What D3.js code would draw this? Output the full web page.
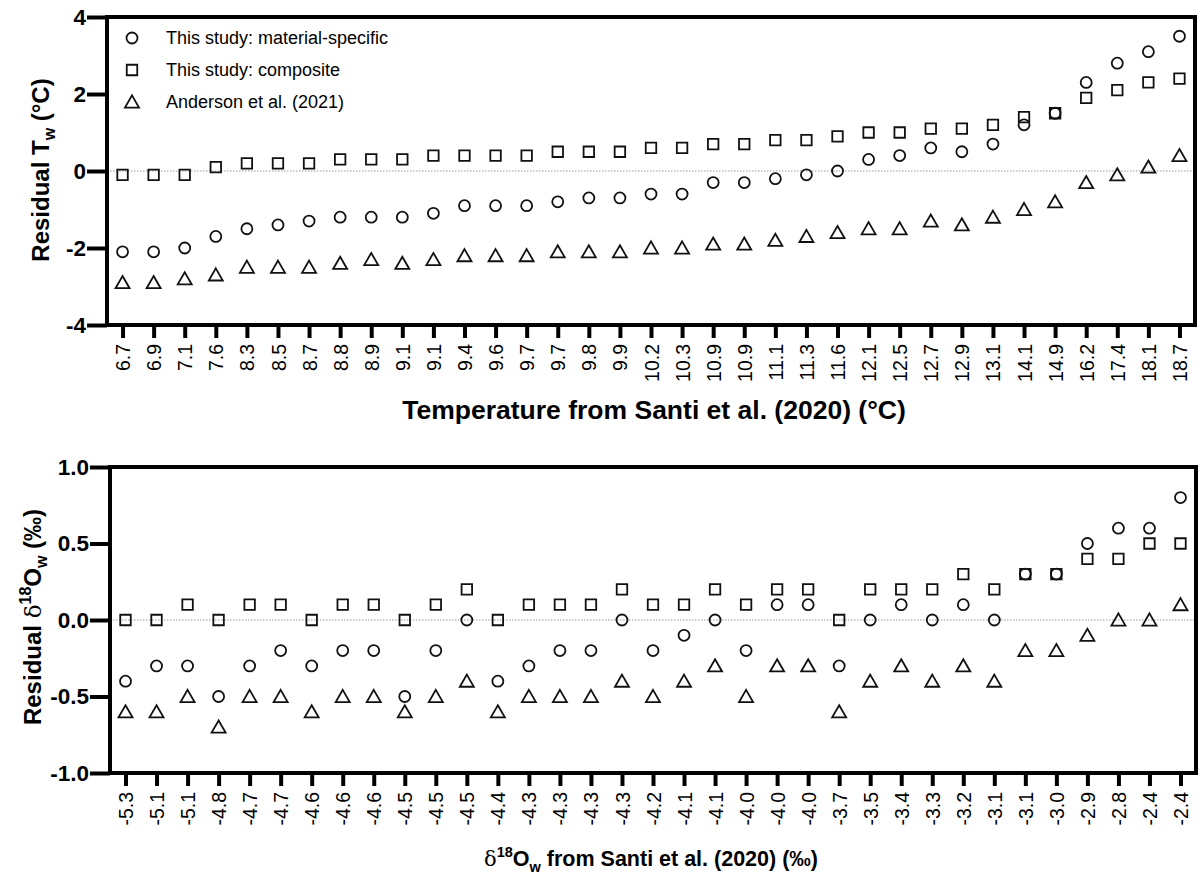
<!DOCTYPE html>
<html><head><meta charset="utf-8">
<script src="https://cdn.jsdelivr.net/npm/d3@7"></script>
<style>body{margin:0;background:#fff}svg{display:block}text{font-family:"Liberation Sans",Arial,sans-serif}</style>
</head><body>
<svg id="c" width="1199" height="882"></svg>
<script>
const tempLabels = ["6.7","6.9","7.1","7.6","8.3","8.5","8.7","8.8","8.9","9.1","9.1","9.4","9.6","9.7","9.7","9.8","9.9","10.2","10.3","10.9","10.9","11.1","11.3","11.6","12.1","12.5","12.7","12.9","13.1","14.1","14.9","16.2","17.4","18.1","18.7"];
const tempMaterial = [-2.1,-2.1,-2.0,-1.7,-1.5,-1.4,-1.3,-1.2,-1.2,-1.2,-1.1,-0.9,-0.9,-0.9,-0.8,-0.7,-0.7,-0.6,-0.6,-0.3,-0.3,-0.2,-0.1,0.0,0.3,0.4,0.6,0.5,0.7,1.2,1.5,2.3,2.8,3.1,3.5];
const tempComposite = [-0.1,-0.1,-0.1,0.1,0.2,0.2,0.2,0.3,0.3,0.3,0.4,0.4,0.4,0.4,0.5,0.5,0.5,0.6,0.6,0.7,0.7,0.8,0.8,0.9,1.0,1.0,1.1,1.1,1.2,1.4,1.5,1.9,2.1,2.3,2.4];
const tempAnderson = [-2.9,-2.9,-2.8,-2.7,-2.5,-2.5,-2.5,-2.4,-2.3,-2.4,-2.3,-2.2,-2.2,-2.2,-2.1,-2.1,-2.1,-2.0,-2.0,-1.9,-1.9,-1.8,-1.7,-1.6,-1.5,-1.5,-1.3,-1.4,-1.2,-1.0,-0.8,-0.3,-0.1,0.1,0.4];
const tempYTicks = [-4,-2,0,2,4];

const d18Labels = ["-5.3","-5.1","-5.1","-4.8","-4.7","-4.7","-4.6","-4.6","-4.6","-4.5","-4.5","-4.5","-4.4","-4.3","-4.3","-4.3","-4.3","-4.2","-4.1","-4.1","-4.0","-4.0","-4.0","-3.7","-3.5","-3.4","-3.3","-3.2","-3.1","-3.1","-3.0","-2.9","-2.8","-2.4","-2.4"];
const d18Material = [-0.4,-0.3,-0.3,-0.5,-0.3,-0.2,-0.3,-0.2,-0.2,-0.5,-0.2,0.0,-0.4,-0.3,-0.2,-0.2,0.0,-0.2,-0.1,0.0,-0.2,0.1,0.1,-0.3,0.0,0.1,0.0,0.1,0.0,0.3,0.3,0.5,0.6,0.6,0.8];
const d18Composite = [0,0,0.1,0,0.1,0.1,0,0.1,0.1,0,0.1,0.2,0,0.1,0.1,0.1,0.2,0.1,0.1,0.2,0.1,0.2,0.2,0,0.2,0.2,0.2,0.3,0.2,0.3,0.3,0.4,0.4,0.5,0.5];
const d18Anderson = [-0.6,-0.6,-0.5,-0.7,-0.5,-0.5,-0.6,-0.5,-0.5,-0.6,-0.5,-0.4,-0.6,-0.5,-0.5,-0.5,-0.4,-0.5,-0.4,-0.3,-0.5,-0.3,-0.3,-0.6,-0.4,-0.3,-0.4,-0.3,-0.4,-0.2,-0.2,-0.1,0.0,0.0,0.1];
const d18YTicks = [-1.0,-0.5,0.0,0.5,1.0];

const seriesNames = ["This study: material-specific","This study: composite","Anderson et al. (2021)"];
const seriesShapes = ["circle","square","triangle"];

const svg = d3.select("#c");

function shapePath(shape){
  if(shape==="circle") return d3.symbol(d3.symbolCircle, 95)();
  if(shape==="square") return d3.symbol(d3.symbolSquare, 110)();
  return d3.symbol(d3.symbolTriangle, 85)();
}
const hy = f => v => f(v).replace("\u2212","-");

function panel(cfg){
  const g = svg.append("g");
  const idx = d3.range(cfg.labels.length);
  const x = d3.scalePoint().domain(idx).range([cfg.left, cfg.right]).padding(0.5);
  const y = d3.scaleLinear().domain(cfg.ydom).range([cfg.bottom, cfg.top]);

  g.append("line").attr("x1",cfg.left).attr("x2",cfg.right).attr("y1",y(0)).attr("y2",y(0))
    .attr("stroke","#999").attr("stroke-width",1.2).attr("stroke-dasharray","1.5,1.5");

  g.append("rect").attr("x",cfg.left).attr("y",cfg.top).attr("width",cfg.right-cfg.left).attr("height",cfg.bottom-cfg.top)
    .attr("fill","none").attr("stroke","#000").attr("stroke-width",4);

  const ya = g.append("g").attr("transform",`translate(${cfg.left},0)`)
    .call(d3.axisLeft(y).tickValues(cfg.yticks).tickSize(20).tickPadding(1).tickFormat(hy(cfg.yfmt)));
  ya.select(".domain").remove();
  ya.selectAll("line").attr("stroke-width",4);
  ya.selectAll("text").attr("font-size",22.5).attr("font-weight","bold").attr("fill","#000");

  const xa = g.append("g").attr("transform",`translate(0,${cfg.bottom})`)
    .call(d3.axisBottom(x).tickSize(13).tickFormat(i=>cfg.labels[i]));
  xa.select(".domain").remove();
  xa.selectAll("line").attr("stroke-width",4);
  xa.selectAll("text").attr("font-size",19.5).attr("fill","#000")
    .attr("text-anchor","end").attr("transform","rotate(-90)")
    .attr("x",-19).attr("y",0).attr("dy","0.36em");

  const sets = [cfg.material, cfg.composite, cfg.anderson];
  sets.forEach((vals,si)=>{
    g.append("g").selectAll("path").data(vals).join("path")
      .attr("d",shapePath(seriesShapes[si]))
      .attr("transform",(v,i)=>`translate(${x(i)},${y(v) + (si===2?1.5:0)})`)
      .attr("fill","none").attr("stroke","#111").attr("stroke-width",1.8);
  });
  return {g,x,y};
}

panel({labels:tempLabels, material:tempMaterial, composite:tempComposite, anderson:tempAnderson,
  left:107, right:1195, top:17, bottom:325, ydom:[-4,4], yticks:tempYTicks, yfmt:d3.format("d")});
panel({labels:d18Labels, material:d18Material, composite:d18Composite, anderson:d18Anderson,
  left:110, right:1196, top:467, bottom:773, ydom:[-1,1], yticks:d18YTicks, yfmt:d3.format(".1f")});

const lg = svg.append("g");
seriesNames.forEach((name,i)=>{
  const yy = 38 + i*32;
  lg.append("path").attr("d",shapePath(seriesShapes[i])).attr("transform",`translate(132,${yy + (i===2?1.5:0)})`)
    .attr("fill","none").attr("stroke","#111").attr("stroke-width",1.8);
  lg.append("text").attr("x",166).attr("y",yy).attr("dy","0.35em").attr("font-size",18).attr("fill","#000").text(name);
});

svg.append("text").attr("x",654).attr("y",419).attr("text-anchor","middle")
  .attr("font-size",26.5).attr("font-weight","bold").text("Temperature from Santi et al. (2020) (°C)");

const t2 = svg.append("text").attr("x",651).attr("y",866).attr("text-anchor","middle")
  .attr("font-size",21.5).attr("font-weight","bold");
t2.append("tspan").attr("font-weight","normal").attr("font-family","DejaVu Serif, serif").attr("font-size",21).text("δ");
t2.append("tspan").attr("font-size",14.5).attr("dy",-9).text("18");
t2.append("tspan").attr("dy",9).text("O");
t2.append("tspan").attr("font-size",14.5).attr("dy",6).text("w");
t2.append("tspan").attr("dy",-6).text(" from Santi et al. (2020) (‰)");

const y1 = svg.append("text").attr("transform","translate(49,170) rotate(-90)").attr("text-anchor","middle")
  .attr("font-size",24).attr("font-weight","bold");
y1.append("tspan").text("Residual T");
y1.append("tspan").attr("font-size",16).attr("dy",6).text("w");
y1.append("tspan").attr("dy",-6).text(" (°C)");

const y2 = svg.append("text").attr("transform","translate(41,617) rotate(-90)").attr("text-anchor","middle")
  .attr("font-size",24).attr("font-weight","bold");
y2.append("tspan").text("Residual ");
y2.append("tspan").attr("font-weight","normal").attr("font-family","DejaVu Serif, serif").attr("font-size",23).text("δ");
y2.append("tspan").attr("font-size",16).attr("dy",-10).text("18");
y2.append("tspan").attr("dy",10).text("O");
y2.append("tspan").attr("font-size",16).attr("dy",6).text("w");
y2.append("tspan").attr("dy",-6).text(" (‰)");
</script>
</body></html>
